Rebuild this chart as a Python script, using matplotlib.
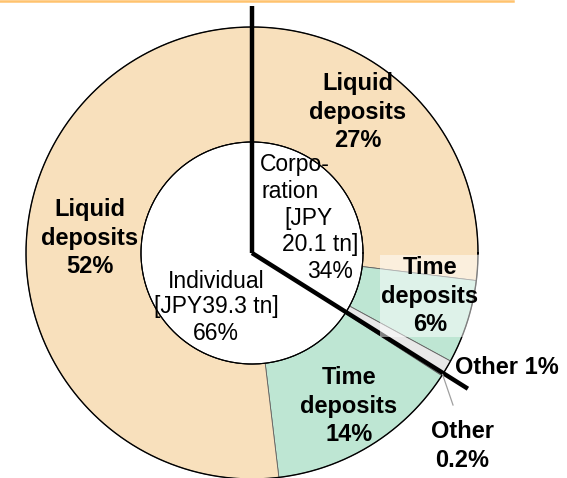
import numpy as np
import matplotlib
matplotlib.use("Agg")
from matplotlib import pyplot as plt
from matplotlib.lines import Line2D

plt.rcParams["font.family"] = ["Liberation Sans", "DejaVu Sans"]

# deposit breakdown, clockwise from 12 o'clock
outer_labels = ["Liquid\ndeposits\n27%", "Time\ndeposits\n6%", "Other 1%",
                "Other\n0.2%", "Time\ndeposits\n14%", "Liquid\ndeposits\n52%"]
outer_values = [27, 6, 1, 0.2, 14, 52]
outer_colors = ["#F8E0BC", "#BEE6D3", "#E8E8E8", "#D0D0D0", "#BEE6D3", "#F8E0BC"]

inner_labels = ["Corporation [JPY 20.1 tn]", "Individual [JPY39.3 tn]"]
inner_values = [34, 66]

R_OUT = 226
R_IN = 111

fig = plt.figure(figsize=(5.67, 4.78), dpi=100)
ax = fig.add_axes([0, 0, 1, 1])

ax.pie(outer_values, radius=R_OUT, colors=outer_colors, startangle=90,
       counterclock=False,
       wedgeprops=dict(width=R_OUT - R_IN, edgecolor="#606060", linewidth=0.6))
ax.pie(inner_values, radius=R_IN, colors=["white", "white"], startangle=90,
       counterclock=False, wedgeprops=dict(edgecolor="black", linewidth=0.8))

# ring outlines
t = np.linspace(0, 2 * np.pi, 400)
ax.plot(R_OUT * np.cos(t), R_OUT * np.sin(t), color="black", lw=1.0)
ax.plot(R_IN * np.cos(t), R_IN * np.sin(t), color="black", lw=0.8)

# thick separators between corporation and individual
split = inner_values[0] / sum(outer_values) * 2 * np.pi
ax.plot([0, 0], [0, 247], color="black", lw=3.2, solid_capstyle="butt")
ax.plot([0, 255 * np.sin(split)], [0, 255 * np.cos(split)], color="black",
        lw=3.2, solid_capstyle="butt")

bold = dict(fontsize=17, fontweight="bold", ha="center", va="center",
            linespacing=1.3)
ax.text(106, 141, outer_labels[0], **bold)
ax.text(178, -43, outer_labels[1], **bold,
        bbox=dict(facecolor="white", alpha=0.5, edgecolor="none", pad=1))
ax.text(203, -114, outer_labels[2], fontsize=17, fontweight="bold",
        ha="left", va="center")
ax.text(-162, 15, outer_labels[5], **bold)
ax.text(97, -153, outer_labels[4], **bold)
ax.text(210, -193, outer_labels[3], **bold)

# leader for the 0.2% sliver
cum = sum(outer_values[:3]) + outer_values[3] / 2
mid = cum / sum(outer_values) * 2 * np.pi
ax.plot([R_OUT * np.sin(mid), 201], [R_OUT * np.cos(mid), -152],
        color="#A0A0A0", lw=0.9)

normal = dict(fontsize=16.5, ha="center", va="center")
ax.text(43, 88, "Corpo-", **normal)
ax.text(38, 61, "ration", **normal)
ax.text(56, 35, "[JPY", **normal)
ax.text(68, 8, "20.1 tn]", **normal)
ax.text(78, -19, "34%", **normal)
ax.text(-36, -28, "Individual", **normal)
ax.text(-36, -53, "[JPY39.3 tn]", **normal)
ax.text(-36, -80, "66%", **normal)

ax.set_aspect("equal")
ax.set_xlim(-252, 315)
ax.set_ylim(-225, 253)
ax.axis("off")

fig.add_artist(Line2D([0, 513 / 567], [1 - 1 / 478] * 2, color="#FFC36E",
                      lw=1.8, transform=fig.transFigure))

fig.savefig("out.png", dpi=100)
